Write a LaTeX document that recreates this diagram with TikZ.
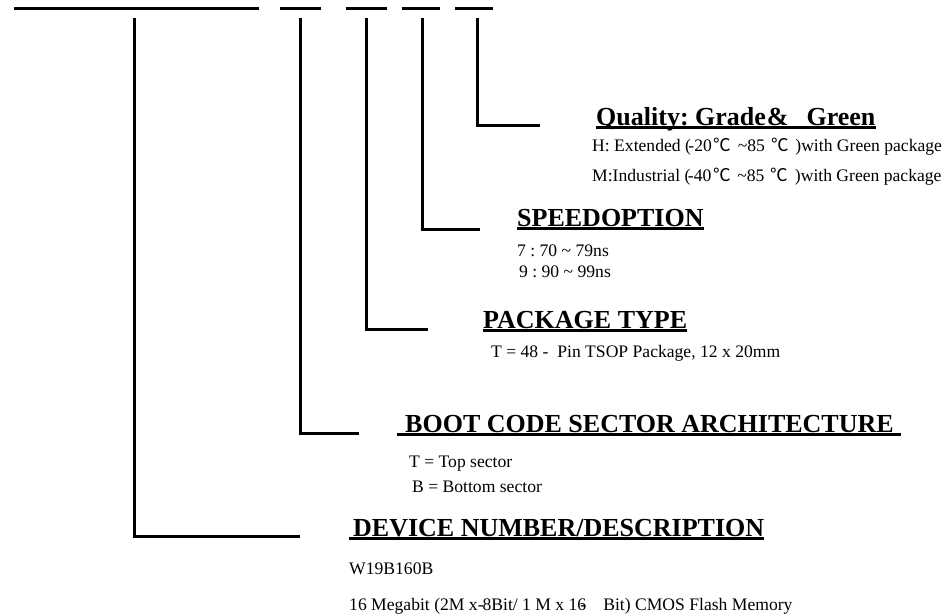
\documentclass[tikz,border=0pt]{standalone}
\usepackage{fontspec}
\setmainfont{Liberation Serif}
\newfontfamily\cjkfont{Noto Sans CJK SC}
\newcommand{\degC}{{\kern2pt\cjkfont ℃\kern2pt}}
\frenchspacing
\begin{document}
\begin{tikzpicture}[x=1pt,y=-1pt]
\tikzset{
  bar/.style={line width=3pt},
  leader/.style={line width=3pt, line join=miter},
  head/.style={anchor=base west, inner sep=0pt, font=\fontsize{26}{30}\selectfont\bfseries},
  body/.style={anchor=base west, inner sep=0pt, font=\fontsize{17.6}{20}\selectfont},
  ul/.style={line width=2.3pt},
}
\useasboundingbox[fill=white] (0,0) rectangle (943,616);

% top bars
\coordinate (b1a) at (14,8);  \coordinate (b1b) at (259,8);
\coordinate (b2a) at (280,8); \coordinate (b2b) at (321,8);
\coordinate (b3a) at (346,8); \coordinate (b3b) at (387,8);
\coordinate (b4a) at (402,8); \coordinate (b4b) at (440,8);
\coordinate (b5a) at (455,8); \coordinate (b5b) at (493,8);
\draw[bar] (b1a) -- (b1b);
\draw[bar] (b2a) -- (b2b);
\draw[bar] (b3a) -- (b3b);
\draw[bar] (b4a) -- (b4b);
\draw[bar] (b5a) -- (b5b);

% leader tops and ends
\coordinate (d0) at (134,18); \coordinate (d2) at (300,536);
\coordinate (t0) at (300,18); \coordinate (t2) at (359,433);
\coordinate (p0) at (366,18); \coordinate (p2) at (428,329);
\coordinate (s0) at (422,18); \coordinate (s2) at (480,229);
\coordinate (q0) at (477,18); \coordinate (q2) at (540,125);
\draw[leader] (d0) |- (d2);
\draw[leader] (t0) |- (t2);
\draw[leader] (p0) |- (p2);
\draw[leader] (s0) |- (s2);
\draw[leader] (q0) |- (q2);

% Quality
\node[head] (qh) at (596,125) {Quality: Grade\kern1pt\&\kern18pt Green};
\draw[ul] ([yshift=-2.5pt]qh.base west) -- ([yshift=-2.5pt]qh.base east);
\node[body] (qH) at (592,151) {H: Extended (\kern-2.5pt-20\degC{} \textasciitilde85 \degC{} )with Green package};
\node[body] (qM) at (592,181) {M:Industrial (\kern-2.5pt-40\degC{} \textasciitilde85 \degC{} )with Green package};

% Speed
\node[head] (sh) at (517,226) {SPEEDOPTION};
\draw[ul] ([yshift=-2.5pt]sh.base west) -- ([yshift=-2.5pt]sh.base east);
\node[body] (s7) at (517,256) {7 : 70 \textasciitilde\ 79ns};
\node[body] (s9) at (519,277) {9 : 90 \textasciitilde\ 99ns};

% Package
\node[head] (ph) at (483,328) {PACKAGE TYPE};
\draw[ul] ([yshift=-2.5pt]ph.base west) -- ([yshift=-2.5pt]ph.base east);
\node[body] (pT) at (491,357) {T = 48 -\ \ Pin TSOP Package, 12 x 20mm};

% Boot
\node[head] (bh) at (397,432) {\kern8pt BOOT CODE SECTOR ARCHITECTURE\kern7pt};
\draw[ul] ([yshift=-2.5pt]bh.base west) -- ([yshift=-2.5pt]bh.base east);
\node[body] (bT) at (409,467) {T = Top sector};
\node[body] (bB) at (412,492) {B = Bottom sector};

% Device
\node[head] (dh) at (349,536) {\kern4pt DEVICE NUMBER/DESCRIPTION};
\draw[ul] ([yshift=-2.5pt]dh.base west) -- ([yshift=-2.5pt]dh.base east);
\node[body] (dW) at (349,574) {W19B160B};
\node[body] (dM) at (349,610) {16 Megabit (2M x-\kern-1pt8Bit/ 1 M x 16\llap{-}\kern17pt Bit) CMOS Flash Memory};
\end{tikzpicture}
\end{document}
